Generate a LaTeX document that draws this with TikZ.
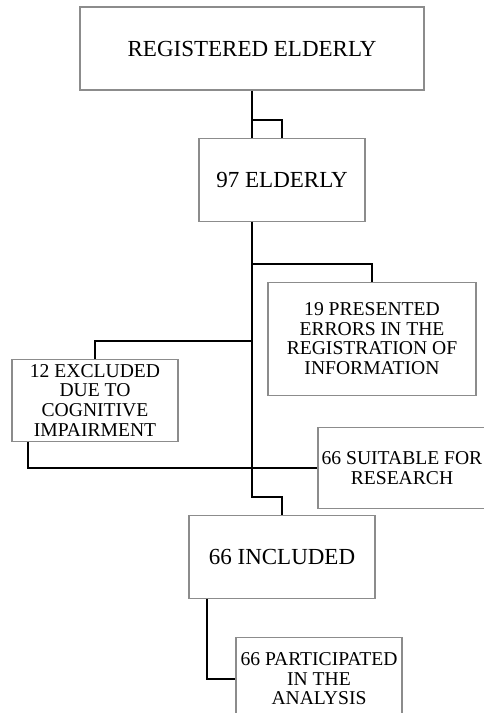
\documentclass[tikz,border=0pt]{standalone}
\usepackage{fontspec}
\setmainfont{Liberation Serif}
\usepackage{tikz}
\usetikzlibrary{positioning}

\begin{document}
\begin{tikzpicture}[
        box/.style={rectangle, draw=black!45, line width=1.1pt, fill=white, minimum height=83pt, align=center, inner sep=1pt},
        bigbox/.style={box, font=\fontsize{23}{23}\selectfont},
        smallbox/.style={box, font=\fontsize{19.6}{19.7}\selectfont},
        link/.style={line width=2pt, black}
    ]
        \useasboundingbox (0,0) rectangle (483pt,-713pt);

        % Main flow
        \node[bigbox, minimum width=344pt] (reg) at (252pt,-48.5pt) {REGISTERED ELDERLY};
        \node[bigbox, minimum width=166pt, below=47pt of reg, xshift=30pt] (elder) {97 ELDERLY};
        \node[bigbox, minimum width=186pt, below=293pt of elder] (incl) {66 INCLUDED};
        \node[smallbox, minimum width=166pt, below=38pt of incl, xshift=37pt] (part) {66 PARTICIPATED\\IN THE\\ANALYSIS};

        % Side boxes
        \node[smallbox, minimum width=208pt, minimum height=113pt, below=60pt of elder, xshift=90pt] (pres) {19 PRESENTED\\ERRORS IN THE\\REGISTRATION OF\\INFORMATION};
        \node[smallbox, minimum width=166pt, minimum height=82pt, below=137pt of elder, xshift=-187pt] (excl) {12 EXCLUDED\\DUE TO\\COGNITIVE\\IMPAIRMENT};
        \node[smallbox, minimum width=168pt, minimum height=81pt, below=31pt of pres, xshift=30pt] (suit) {66 SUITABLE FOR\\RESEARCH};

        % Junctions on the trunk
        \coordinate[below=29pt of reg.south] (j0);
        \coordinate (tk) at (reg.south |- elder.south);
        \coordinate[below=42pt of tk] (j1);
        \coordinate[below=119pt of tk] (j2);
        \coordinate[below=275pt of tk] (j3);

        % Lines
        \draw[link] (reg.south) -- (reg.south |- elder.north);
        \draw[link] (j0) -| (elder.north);
        \draw[link] (tk) -- (j3) -| (incl.north);
        \draw[link] (j1) -| (pres.north);
        \draw[link] (j2) -| (excl.north);
        \draw[link] ([xshift=17pt]excl.south west) |- (suit.west);
        \draw[link] ([xshift=19pt]incl.south west) |- (part.west);

    \end{tikzpicture}
\end{document}
